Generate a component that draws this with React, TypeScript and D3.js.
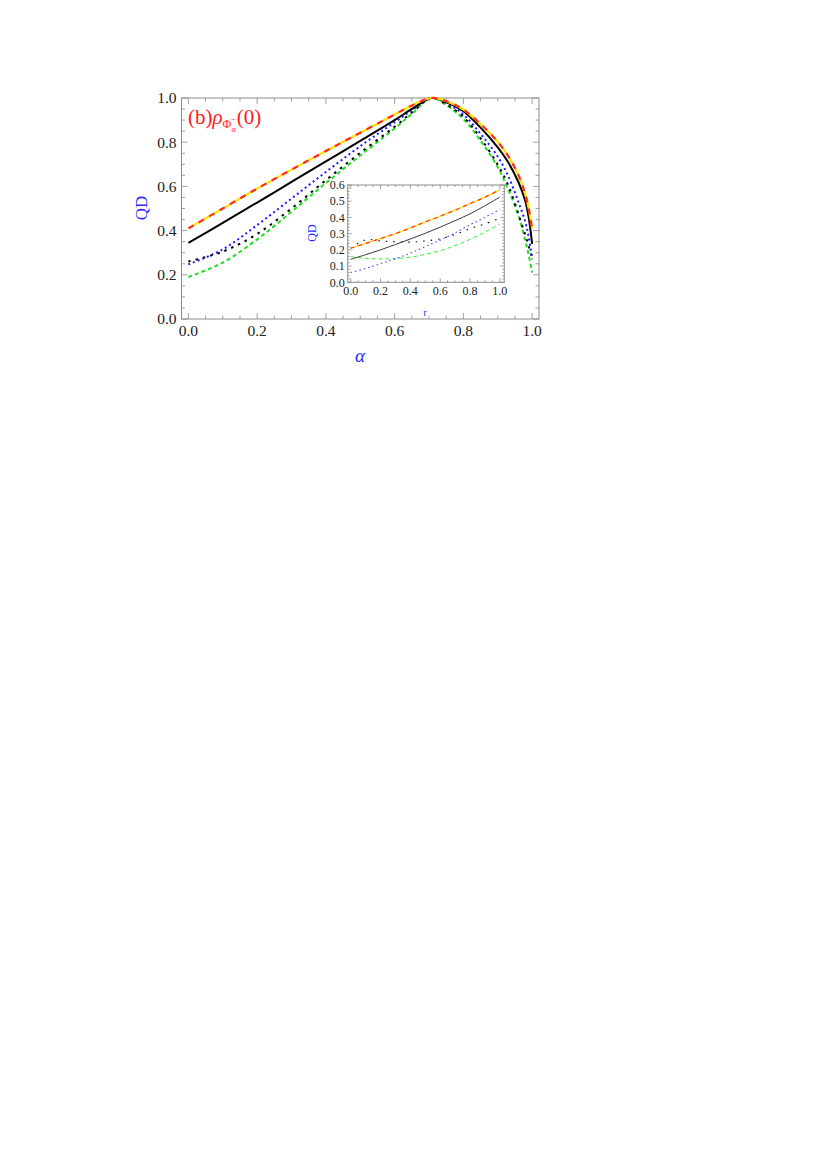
import React, { useEffect, useRef } from "react";
import * as d3 from "d3";

// main panel: QD vs alpha
const alphaGrid = [0, 0.1, 0.2, 0.3, 0.4, 0.5, 0.6, 0.655, 0.707, 0.75, 0.8, 0.85, 0.9, 0.93, 0.96, 0.98, 0.99, 1.0];
const qdRedYellow = [0.41, 0.5, 0.59, 0.676, 0.76, 0.843, 0.925, 0.97, 1.0, 0.986, 0.948, 0.882, 0.802, 0.738, 0.652, 0.565, 0.5, 0.41];
const qdBlackSolid = [0.344, 0.435, 0.527, 0.62, 0.713, 0.806, 0.9, 0.955, 1.0, 0.982, 0.94, 0.866, 0.777, 0.71, 0.62, 0.535, 0.46, 0.34];
const qdBlueDot = [0.247, 0.315, 0.425, 0.545, 0.665, 0.782, 0.89, 0.95, 1.0, 0.978, 0.925, 0.838, 0.735, 0.648, 0.53, 0.44, 0.37, 0.27];
const qdBlackDot = [0.26, 0.305, 0.385, 0.5, 0.628, 0.752, 0.87, 0.94, 1.0, 0.972, 0.915, 0.818, 0.698, 0.607, 0.475, 0.38, 0.33, 0.28];
const qdGreen = [0.19, 0.255, 0.36, 0.485, 0.615, 0.74, 0.862, 0.935, 1.0, 0.968, 0.905, 0.807, 0.687, 0.587, 0.47, 0.355, 0.29, 0.21];

// inset: QD vs r
const rGrid = [0, 0.1, 0.2, 0.3, 0.4, 0.5, 0.6, 0.7, 0.8, 0.9, 1.0];
const inRedYellow = [0.21, 0.24, 0.27, 0.3, 0.335, 0.372, 0.408, 0.445, 0.485, 0.525, 0.57];
const inBlackSolid = [0.142, 0.17, 0.2, 0.233, 0.267, 0.302, 0.34, 0.38, 0.422, 0.472, 0.525];
const inBlueDot = [0.06, 0.085, 0.115, 0.145, 0.18, 0.22, 0.26, 0.305, 0.355, 0.4, 0.45];
const inBlackDot = [0.21, 0.262, 0.255, 0.25, 0.248, 0.255, 0.268, 0.295, 0.33, 0.36, 0.395];
const inGreen = [0.158, 0.148, 0.144, 0.146, 0.155, 0.172, 0.195, 0.226, 0.265, 0.31, 0.36];

const xTicks = [0, 0.2, 0.4, 0.6, 0.8, 1.0];
const yTicks = [0, 0.2, 0.4, 0.6, 0.8, 1.0];
const inXTicks = [0, 0.2, 0.4, 0.6, 0.8, 1.0];
const inYTicks = [0, 0.1, 0.2, 0.3, 0.4, 0.5, 0.6];

const SERIF = "'Liberation Serif', 'Times New Roman', Times, serif";

type Style = { color: string; width: number; dash?: string; offset?: number };

const App = () => {
  const ref = useRef<SVGSVGElement>(null);

  useEffect(() => {
    const svg = d3.select(ref.current);
    svg.selectAll("*").remove();

    const drawPanel = (
      g: d3.Selection<SVGGElement, unknown, null, undefined>,
      x: d3.ScaleLinear<number, number>,
      y: d3.ScaleLinear<number, number>,
      majX: number[], majY: number[], minStepX: number, minStepY: number,
      majLen: number, minLen: number, fontSize: number, labelGap: number, fmt: (v: number) => string
    ) => {
      const [x0, x1] = x.range();
      const [y0, y1] = y.range();
      g.append("rect").attr("x", x0).attr("y", y1).attr("width", x1 - x0).attr("height", y0 - y1)
        .attr("fill", "#fff").attr("stroke", "#8c8c8c").attr("stroke-width", 1);
      const [dx0, dx1] = x.domain();
      const [dy0, dy1] = y.domain();
      const minX = d3.range(Math.ceil(dx0 / minStepX - 1e-6) * minStepX, dx1 + 1e-9, minStepX);
      const minY = d3.range(Math.ceil(dy0 / minStepY - 1e-6) * minStepY, dy1 + 1e-9, minStepY);
      const isMaj = (v: number, arr: number[]) => arr.some(a => Math.abs(a - v) < 1e-6);
      const tk = g.append("g").attr("stroke", "#8c8c8c").attr("stroke-width", 0.8);
      minX.forEach(v => {
        const L = isMaj(v, majX) ? majLen : minLen;
        const px = x(v);
        tk.append("line").attr("x1", px).attr("x2", px).attr("y1", y0).attr("y2", y0 - L);
        tk.append("line").attr("x1", px).attr("x2", px).attr("y1", y1).attr("y2", y1 + L);
      });
      minY.forEach(v => {
        const L = isMaj(v, majY) ? majLen : minLen;
        const py = y(v);
        tk.append("line").attr("x1", x0).attr("x2", x0 + L).attr("y1", py).attr("y2", py);
        tk.append("line").attr("x1", x1).attr("x2", x1 - L).attr("y1", py).attr("y2", py);
      });
      majX.forEach(v => {
        g.append("text").attr("x", x(v)).attr("y", y0 + labelGap + fontSize * 0.7)
          .attr("text-anchor", "middle").style("font-family", SERIF).attr("font-size", fontSize)
          .attr("fill", "#222").text(fmt(v));
      });
      majY.forEach(v => {
        g.append("text").attr("x", x0 - labelGap + 1).attr("y", y(v)).attr("dy", "0.35em")
          .attr("text-anchor", "end").style("font-family", SERIF).attr("font-size", fontSize)
          .attr("fill", "#222").text(fmt(v));
      });
    };

    const drawCurve = (
      g: d3.Selection<SVGGElement, unknown, null, undefined>,
      x: d3.ScaleLinear<number, number>,
      y: d3.ScaleLinear<number, number>,
      xs: number[], ys: number[], s: Style
    ) => {
      const line = d3.line<number>().x((_, i) => x(xs[i])).y(d => y(d)).curve(d3.curveCatmullRom.alpha(0.5));
      g.append("path").attr("d", line(ys)).attr("fill", "none").attr("stroke", s.color)
        .attr("stroke-width", s.width).attr("stroke-dasharray", s.dash ?? null)
        .attr("stroke-dashoffset", s.offset ?? 0).attr("stroke-linecap", "butt");
    };

    const fmt1 = d3.format(".1f");

    // ---- main panel
    const x = d3.scaleLinear().domain([-0.02, 1.02]).range([181.5, 539]);
    const y = d3.scaleLinear().domain([0, 1]).range([319, 98]);
    const main = svg.append("g");
    drawPanel(main, x, y, xTicks, yTicks, 0.05, 0.05, 6, 3.5, 15.5, 6, fmt1);

    const curves = main.append("g");
    const mainSets: [number[], Style[]][] = [
      [qdGreen, [{ color: "#22dd22", width: 2, dash: "4,3" }]],
      [qdBlackDot, [{ color: "#000", width: 2, dash: "2.5,5" }]],
      [qdBlueDot, [{ color: "#1a1aff", width: 2, dash: "2,3" }]],
      [qdBlackSolid, [{ color: "#000", width: 2 }]],
      [qdRedYellow, [
        { color: "#ffe000", width: 2.2 },
        { color: "#ff2a2a", width: 2.2, dash: "6,6" },
      ]],
    ];
    mainSets.forEach(([vals, styles]) => styles.forEach(s => drawCurve(curves, x, y, alphaGrid, vals, s)));

    main.append("text").attr("x", 360).attr("y", 362).attr("text-anchor", "middle")
      .style("font-family", SERIF).attr("font-style", "italic").attr("font-size", 19)
      .attr("fill", "#2a2aff").text("α");
    main.append("text").attr("transform", "translate(147,208) rotate(-90)").attr("text-anchor", "middle")
      .style("font-family", SERIF).attr("font-size", 17).attr("fill", "#2a2aff").text("QD");

    // panel label (b) rho_{Phi_alpha^-}(0)
    const lab = main.append("text").attr("x", 188).attr("y", 124)
      .style("font-family", SERIF).attr("font-size", 21).attr("fill", "#ff1a1a");
    lab.append("tspan").text("(b)");
    lab.append("tspan").attr("font-style", "italic").text("ρ");
    lab.append("tspan").attr("font-size", 12).attr("dy", 4).text("Φ");
    lab.append("tspan").attr("font-size", 8).attr("dy", 4).attr("font-style", "italic").text("α");
    lab.append("tspan").attr("font-size", 9).attr("dx", -5).attr("dy", -10).text("−");
    lab.append("tspan").attr("dy", 2).attr("dx", 1).text("(0)");

    // ---- inset
    const xi = d3.scaleLinear().domain([-0.02, 1.03]).range([347.7, 504.3]);
    const yi = d3.scaleLinear().domain([0, 0.6]).range([282.3, 185]);
    const inset = svg.append("g");
    drawPanel(inset, xi, yi, inXTicks, inYTicks, 0.05, 0.02, 4, 2, 12, 4, fmt1);
    const ic = inset.append("g");
    const insetSets: [number[], Style[]][] = [
      [inGreen, [{ color: "#33ee33", width: 1, dash: "4,3" }]],
      [inBlackDot, [{ color: "#000", width: 1.1, dash: "1.5,6" }]],
      [inBlueDot, [{ color: "#4a4aff", width: 1.1, dash: "1.5,3" }]],
      [inBlackSolid, [{ color: "#222", width: 0.9 }]],
      [inRedYellow, [
        { color: "#ffe000", width: 1.3 },
        { color: "#ff3a3a", width: 1.3, dash: "4,4" },
      ]],
    ];
    insetSets.forEach(([vals, styles]) => styles.forEach(s => drawCurve(ic, xi, yi, rGrid, vals, s)));

    inset.append("text").attr("transform", "translate(316,233) rotate(-90)").attr("text-anchor", "middle")
      .style("font-family", SERIF).attr("font-size", 12).attr("fill", "#2a2aff").text("QD");
    inset.append("text").attr("x", 425).attr("y", 316).attr("text-anchor", "middle")
      .style("font-family", SERIF).attr("font-size", 11).attr("fill", "#3a3aff").text("r");
  }, []);

  return (
    <svg
      ref={ref}
      width={828}
      height={1170}
      style={{ position: "absolute", left: 0, top: 0, background: "#fff" }}
    />
  );
};

export default App;
